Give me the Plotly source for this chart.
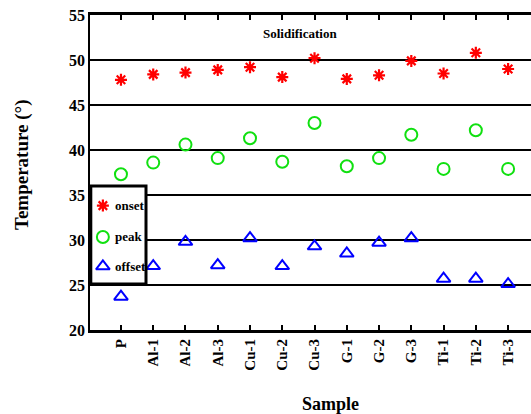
import plotly.graph_objects as go

samples = ["P", "Al-1", "Al-2", "Al-3", "Cu-1", "Cu-2", "Cu-3", "G-1", "G-2", "G-3", "Ti-1", "Ti-2", "Ti-3"]
onset = [47.8, 48.4, 48.6, 48.9, 49.2, 48.1, 50.2, 47.9, 48.3, 49.9, 48.5, 50.8, 49.0]
peak = [37.3, 38.6, 40.6, 39.1, 41.3, 38.7, 43.0, 38.2, 39.1, 41.7, 37.9, 42.2, 37.9]
offset = [23.7, 27.1, 29.8, 27.2, 30.2, 27.1, 29.3, 28.5, 29.7, 30.2, 25.7, 25.7, 25.1]
y_ticks = [20, 25, 30, 35, 40, 45, 50, 55]
series_names = ["onset", "peak", "offset"]

serif = "Liberation Serif"
styles = [
    dict(symbol="asterisk-open", size=10, line=dict(width=2.2, color="#ff0000"), color="#ff0000"),
    dict(symbol="circle-open", size=12, line=dict(width=2, color="#10e010"), color="#10e010"),
    dict(symbol="triangle-up-open", size=12, line=dict(width=2, color="#0000ff"), color="#0000ff"),
]

xi = list(range(len(samples)))
fig = go.Figure()
for name, vals, st in zip(series_names, [onset, peak, offset], styles):
    fig.add_trace(go.Scatter(x=xi, y=vals, mode="markers", name=name, marker=st,
                             showlegend=False, xaxis="x", yaxis="y"))

# legend box (layout positions inside the legend, on a helper axis)
leg_x_marker = 0.23
leg_x_text = 0.41
leg_rows = [0.80, 0.48, 0.18]
for name, st, ry in zip(series_names, styles, leg_rows):
    fig.add_trace(go.Scatter(x=[leg_x_marker], y=[ry], mode="markers", marker=st,
                             showlegend=False, hoverinfo="skip", xaxis="x2", yaxis="y2"))

fig.update_layout(
    width=531, height=414,
    margin=dict(l=90, r=0, t=15, b=84),
    paper_bgcolor="white", plot_bgcolor="white",
    font=dict(family=serif, color="black"),
    showlegend=False,
    xaxis=dict(range=[-0.96, 12.71], tickmode="array", tickvals=xi,
               ticktext=["<b>%s</b>" % s for s in samples], tickangle=-90,
               tickfont=dict(family=serif, size=15, color="black"),
               showline=True, linecolor="black", linewidth=3, mirror="allticks",
               ticks="inside", ticklen=5, tickwidth=2, tickcolor="black",
               showgrid=False, zeroline=False),
    yaxis=dict(range=[20, 55], tickmode="array", tickvals=y_ticks,
               ticktext=["<b>%d</b>" % v for v in y_ticks],
               tickfont=dict(family=serif, size=16, color="black"),
               showline=True, linecolor="black", linewidth=1.5,
               ticks="inside", ticklen=3, tickwidth=1.5, tickcolor="black",
               showgrid=True, gridcolor="black", gridwidth=1.5, zeroline=False),
    xaxis2=dict(domain=[0, 56 / 441], range=[0, 1], anchor="y2", visible=False, fixedrange=True),
    yaxis2=dict(domain=[46 / 315, 144 / 315], range=[0, 1], anchor="x2", visible=False, fixedrange=True),
)

pw, ph = 531 - 90, 414 - 15 - 84
box = dict(type="rect", xref="paper", yref="paper", x0=0.8 / pw, x1=56 / pw, y0=46 / ph, y1=144 / ph)
fig.add_shape(**box, line=dict(width=0), fillcolor="white", layer="between")
fig.add_shape(**box, line=dict(color="black", width=3), fillcolor="rgba(0,0,0,0)", layer="above")

for name, ry in zip(series_names, leg_rows):
    fig.add_annotation(text="<b>%s</b>" % name, xref="x2", yref="y2", x=leg_x_text, y=ry,
                       xanchor="left", yanchor="middle", showarrow=False,
                       font=dict(family=serif, size=13, color="black"))


def px_anno(text, px, py, size, angle=0):
    fig.add_annotation(text=text, xref="paper", yref="paper",
                       x=(px - 90) / pw, y=(414 - 84 - py) / ph,
                       xanchor="center", yanchor="middle", showarrow=False, textangle=angle,
                       font=dict(family=serif, size=size, color="black"))


px_anno("<b>Solidification</b>", 300, 33, 13)
px_anno("<b>Sample</b>", 330, 404, 18)
px_anno("<b>Temperature (°)</b>", 22, 165, 19, -90)

fig.write_html("out.html")
